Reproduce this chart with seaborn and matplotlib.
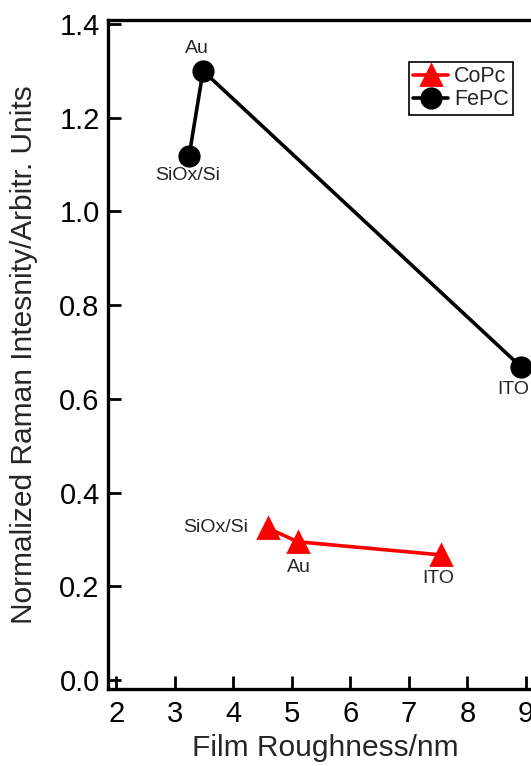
import matplotlib
matplotlib.use("Agg")
import matplotlib.pyplot as plt
import seaborn as sns
import pandas as pd

# ---- data ----
substrates = ["SiOx/Si", "Au", "ITO"]
copc_roughness = [4.59, 5.10, 7.55]
copc_intensity = [0.324, 0.295, 0.267]
fepc_roughness = [3.24, 3.48, 8.91]
fepc_intensity = [1.118, 1.300, 0.669]
x_ticks = [2, 3, 4, 5, 6, 7, 8, 9]
y_ticks = [0.0, 0.2, 0.4, 0.6, 0.8, 1.0, 1.2, 1.4]

sns.set_style("ticks")
plt.rcParams["font.family"] = ["Liberation Sans", "DejaVu Sans"]

df_co = pd.DataFrame({"x": copc_roughness, "y": copc_intensity, "sub": substrates})
df_fe = pd.DataFrame({"x": fepc_roughness, "y": fepc_intensity, "sub": substrates})

fig = plt.figure(figsize=(5.31, 7.66), dpi=100)
ax = fig.add_axes([0.2034, 0.1005, 0.8202, 0.8740])

sns.lineplot(data=df_co, x="x", y="y", ax=ax, color="#ff0000", marker="^",
             markersize=14, markeredgewidth=2, markeredgecolor="#ff0000",
             linewidth=2.6, label="CoPc", sort=False)
sns.lineplot(data=df_fe, x="x", y="y", ax=ax, color="black", marker="o",
             markersize=14.5, markeredgewidth=1.5, markeredgecolor="black",
             linewidth=2.6, label="FePC", sort=False)

ax.set_xlim(1.855, 9.3)
ax.set_ylim(-0.0192, 1.4096)
ax.set_xticks(x_ticks)
ax.set_yticks(y_ticks)
ax.set_xticklabels([str(t) for t in x_ticks])
ax.set_yticklabels([f"{t:.1f}" for t in y_ticks])

for s in ["left", "bottom", "top", "right"]:
    ax.spines[s].set_linewidth(2.4)
    ax.spines[s].set_color("black")
ax.tick_params(axis="both", direction="in", length=9.5, width=2, labelsize=21,
               colors="black", top=False, right=False)
ax.tick_params(axis="y", pad=6)
ax.tick_params(axis="x", pad=8)

ax.set_xlabel("Film Roughness/nm", fontsize=21.5)
ax.set_ylabel("Normalized Raman Intesnity/Arbitr. Units", fontsize=21.5)
ax.xaxis.set_label_coords(0.498, -0.0675)
ax.yaxis.set_label_coords(-0.16, 0.5)

# annotations (offsets in points)
fe_offsets = [(-1.3, -13.7, "center"), (-4.3, 15.8, "center"), (-5.5, -16.5, "center")]
co_offsets = [(-14.4, 0.5, "right"), (0.7, -18.7, "center"), (-2.2, -17, "center")]
for (xv, yv, lab), (dx, dy, ha) in zip(zip(fepc_roughness, fepc_intensity, substrates), fe_offsets):
    ax.annotate(lab, (xv, yv), xytext=(dx, dy), textcoords="offset points",
                ha=ha, va="center", fontsize=14, annotation_clip=False)
for (xv, yv, lab), (dx, dy, ha) in zip(zip(copc_roughness, copc_intensity, substrates), co_offsets):
    ax.annotate(lab, (xv, yv), xytext=(dx, dy), textcoords="offset points",
                ha=ha, va="center", fontsize=14, annotation_clip=False)

leg = ax.legend(loc="upper left", bbox_to_anchor=(409 / 531, 1 - 62 / 766),
                bbox_transform=fig.transFigure, frameon=True, fancybox=False,
                edgecolor="black", framealpha=1, fontsize=15.5, handlelength=1.6,
                handletextpad=0.3, labelspacing=0.1, borderpad=0.2,
                borderaxespad=0)
leg.get_frame().set_linewidth(1.2)

fig.savefig("out.png", dpi=100)
